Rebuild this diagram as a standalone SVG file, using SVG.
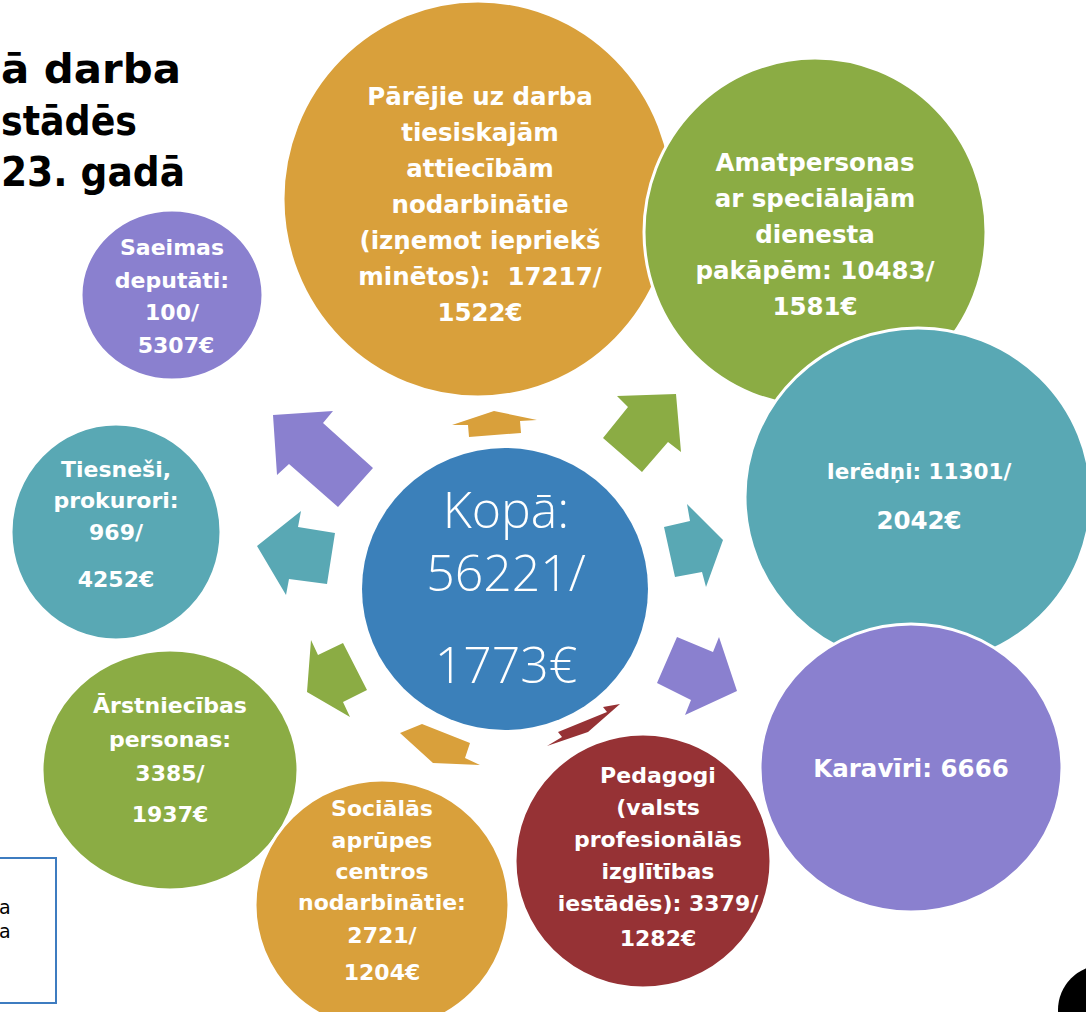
<svg xmlns="http://www.w3.org/2000/svg" width="1086" height="1012" viewBox="0 0 1086 1012">
<style>
.c{stroke:#fff;stroke-width:3}
.or{fill:#D9A03B}.gr{fill:#8BAC44}.te{fill:#59A8B4}.pu{fill:#8A80CF}.re{fill:#963235}.bl{fill:#3B80BA}
.t{font-family:"DejaVu Sans","Liberation Sans",sans-serif;font-weight:700;fill:#fff;text-anchor:middle}
.big{font-size:24.5px}.sm{font-size:22px}
.k{font-family:"Open Sans","Lato","Liberation Sans",sans-serif;font-weight:300;font-size:50px;fill:#fff;text-anchor:middle}
.title{font-family:"DejaVu Sans","Liberation Sans",sans-serif;font-weight:700;font-size:41px;fill:#000}
.note{font-family:"DejaVu Sans","Liberation Sans",sans-serif;font-size:19px;fill:#000}
</style>
<rect width="1086" height="1012" fill="#fff"/>
<g id="title">
<text class="title" x="1" y="83" textLength="180" lengthAdjust="spacingAndGlyphs">ā darba</text>
<text class="title" x="1" y="135" textLength="136" lengthAdjust="spacingAndGlyphs">stādēs</text>
<text class="title" x="1" y="186" textLength="184" lengthAdjust="spacingAndGlyphs">23. gadā</text>
</g>
<g id="note">
<rect x="-5" y="858" width="61" height="145" fill="#fff" stroke="#3E7CC0" stroke-width="2"/>
<text class="note" x="-1" y="914">a</text>
<text class="note" x="-1" y="938">a</text>
</g>
<g id="node-parejie">
<ellipse class="c or" cx="478" cy="199" rx="195" ry="198"/>
<text class="t big" x="480"><tspan x="480" y="105">Pārējie uz darba</tspan><tspan x="480" y="141">tiesiskajām</tspan><tspan x="480" y="177">attiecībām</tspan><tspan x="480" y="213">nodarbinātie</tspan><tspan x="480" y="249">(izņemot iepriekš</tspan><tspan x="480" y="285" xml:space="preserve">minētos):  17217/</tspan><tspan x="480" y="321">1522€</tspan></text>
</g>
<g id="node-amatpersonas">
<ellipse class="c gr" cx="815" cy="232" rx="171" ry="174"/>
<text class="t big"><tspan x="815" y="171">Amatpersonas</tspan><tspan x="815" y="207">ar speciālajām</tspan><tspan x="815" y="243">dienesta</tspan><tspan x="815" y="279">pakāpēm: 10483/</tspan><tspan x="815" y="315">1581€</tspan></text>
</g>
<g id="node-ierednji">
<ellipse class="c te" cx="918" cy="497" rx="173" ry="169"/>
<text class="t big"><tspan x="919" y="479" font-size="21.5">Ierēdņi: 11301/</tspan><tspan x="919" y="529">2042€</tspan></text>
</g>
<g id="node-karaviri">
<ellipse class="c pu" cx="911" cy="768" rx="151" ry="144"/>
<text class="t big" x="911" y="777">Karavīri: 6666</text>
</g>
<g id="node-pedagogi">
<ellipse class="c re" cx="643" cy="861" rx="128" ry="127"/>
<text class="t sm"><tspan x="658" y="783">Pedagogi</tspan><tspan x="658" y="815">(valsts</tspan><tspan x="658" y="847">profesionālās</tspan><tspan x="658" y="879">izglītības</tspan><tspan x="658" y="911">iestādēs): 3379/</tspan><tspan x="658" y="946">1282€</tspan></text>
</g>
<g id="node-arstniecibas">
<ellipse class="c gr" cx="170" cy="770" rx="128" ry="120"/>
<text class="t sm"><tspan x="170" y="713">Ārstniecības</tspan><tspan x="170" y="747">personas:</tspan><tspan x="170" y="781">3385/</tspan><tspan x="170" y="822">1937€</tspan></text>
</g>
<g id="node-socialas">
<ellipse class="c or" cx="382" cy="905" rx="127" ry="125"/>
<text class="t sm"><tspan x="382" y="816">Sociālās</tspan><tspan x="382" y="848">aprūpes</tspan><tspan x="382" y="879">centros</tspan><tspan x="382" y="910">nodarbinātie:</tspan><tspan x="382" y="943">2721/</tspan><tspan x="382" y="980">1204€</tspan></text>
</g>
<g id="node-tiesnesi">
<ellipse class="c te" cx="116" cy="532" rx="105" ry="108"/>
<text class="t sm"><tspan x="116" y="477">Tiesneši,</tspan><tspan x="116" y="508">prokurori:</tspan><tspan x="116" y="540">969/</tspan><tspan x="116" y="587">4252€</tspan></text>
</g>
<g id="node-saeimas">
<ellipse class="c pu" cx="172" cy="295" rx="91" ry="85"/>
<text class="t sm"><tspan x="172" y="255">Saeimas</tspan><tspan x="172" y="288">deputāti:</tspan><tspan x="172" y="320">100/</tspan><tspan x="176" y="353">5307€</tspan></text>
</g>
<g id="node-kopa">
<ellipse class="bl" cx="505" cy="589" rx="143" ry="141"/>
<text class="k"><tspan x="506" y="528">Kopā:</tspan><tspan x="506" y="591">56221/</tspan><tspan x="506" y="683">1773€</tspan></text>
</g>
<g id="connectors">
<polygon class="or" points="494,411 537,420 520,421 521,433 469,437 468,425 452,425"/>
<polygon class="pu" points="273,415 333,411 323,423 373,468 338,507 289,464 277,475"/>
<polygon class="te" points="257,546 301,511 298,527 335,533 327,584 289,579 286,595"/>
<polygon class="gr" points="311,640 318,655 343,643 367,690 343,702 350,717 307,692"/>
<polygon class="or" points="400,733 422,724 470,743 465,758 480,765 433,763"/>
<polygon class="re" points="620,704 603,707 607,712 558,732 562,737 547,746 588,732"/>
<polygon class="pu" points="677,637 713,652 719,637 737,691 685,715 691,700 657,683"/>
<polygon class="te" points="687,504 723,540 706,587 702,572 675,577 664,527 690,521"/>
<polygon class="gr" points="617,396 676,394 681,452 668,442 642,472 603,438 628,407"/>
</g>
<g id="corner">
<circle cx="1103" cy="1010" r="45" fill="#000"/>
</g>
</svg>
